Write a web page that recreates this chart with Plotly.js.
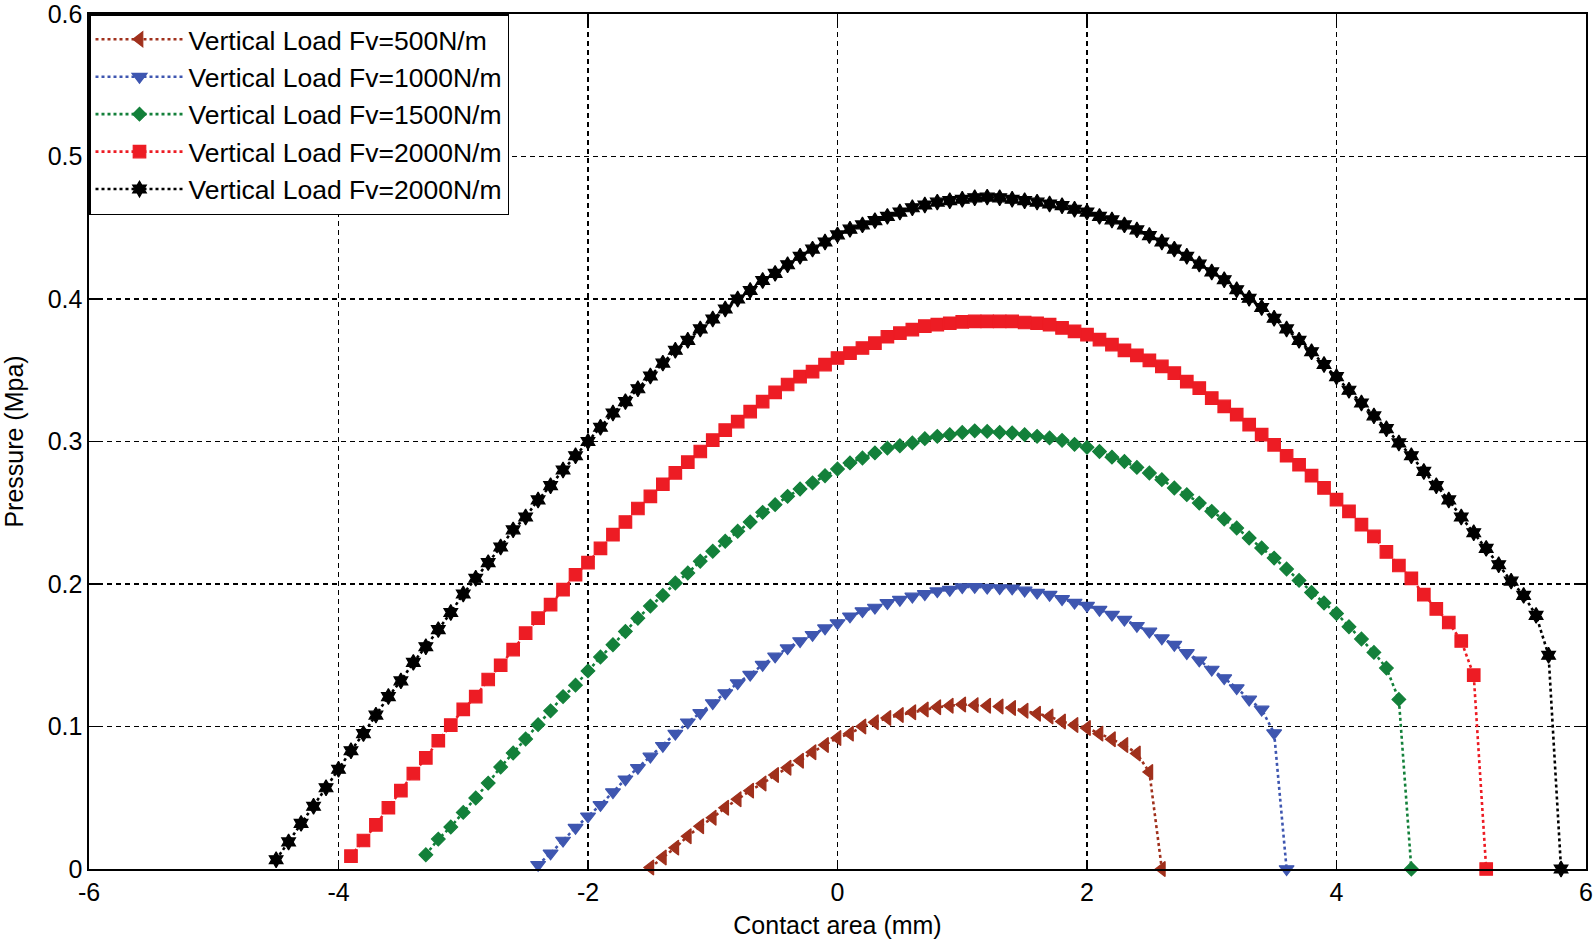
<!DOCTYPE html>
<html>
<head>
<meta charset="utf-8">
<script src="https://cdn.plot.ly/plotly-3.0.1.min.js"></script>
<style>
html,body{margin:0;padding:0;background:#fff;}
#chart{width:1596px;height:943px;}
</style>
</head>
<body>
<div id="chart"></div>
<script>
// Series names
const seriesNames = [
  "Vertical Load Fv=500N/m",
  "Vertical Load Fv=1000N/m",
  "Vertical Load Fv=1500N/m",
  "Vertical Load Fv=2000N/m",
  "Vertical Load Fv=2000N/m"
];

// Fv = 500 N/m
const x500 = [-1.5,-1.4,-1.3,-1.2,-1.1,-1.0,-0.9,-0.8,-0.7,-0.6,-0.5,-0.4,-0.3,-0.2,-0.1,0,0.1,0.2,0.3,0.4,0.5,0.6,0.7,0.8,0.9,1.0,1.1,1.2,1.3,1.4,1.5,1.6,1.7,1.8,1.9,2.0,2.1,2.2,2.3,2.4,2.5,2.6];
const y500 = [0.001,0.008,0.015,0.023,0.030,0.036,0.043,0.049,0.055,0.060,0.066,0.071,0.076,0.082,0.087,0.092,0.095,0.100,0.103,0.106,0.108,0.110,0.112,0.1135,0.1145,0.1155,0.115,0.1145,0.114,0.113,0.111,0.109,0.107,0.1035,0.101,0.099,0.095,0.091,0.087,0.081,0.068,0];

// Fv = 1000 N/m
const x1000 = [-2.4,-2.3,-2.2,-2.1,-2.0,-1.9,-1.8,-1.7,-1.6,-1.5,-1.4,-1.3,-1.2,-1.1,-1.0,-0.9,-0.8,-0.7,-0.6,-0.5,-0.4,-0.3,-0.2,-0.1,0,0.1,0.2,0.3,0.4,0.5,0.6,0.7,0.8,0.9,1.0,1.1,1.2,1.3,1.4,1.5,1.6,1.7,1.8,1.9,2.0,2.1,2.2,2.3,2.4,2.5,2.6,2.7,2.8,2.9,3.0,3.1,3.2,3.3,3.4,3.5,3.6];
const y1000 = [0.003,0.011,0.020,0.029,0.037,0.045,0.054,0.063,0.071,0.079,0.0865,0.095,0.103,0.1095,0.1165,0.1235,0.1305,0.1364,0.1434,0.1492,0.155,0.160,0.1644,0.169,0.1726,0.1773,0.181,0.1835,0.1867,0.189,0.1913,0.193,0.195,0.196,0.1979,0.198,0.1975,0.1972,0.197,0.1955,0.194,0.1925,0.1895,0.187,0.1848,0.182,0.1785,0.175,0.1707,0.1667,0.162,0.1574,0.1516,0.1464,0.140,0.134,0.127,0.119,0.112,0.0954,0];

// Fv = 1500 N/m
const x1500 = [-3.3,-3.2,-3.1,-3.0,-2.9,-2.8,-2.7,-2.6,-2.5,-2.4,-2.3,-2.2,-2.1,-2.0,-1.9,-1.8,-1.7,-1.6,-1.5,-1.4,-1.3,-1.2,-1.1,-1.0,-0.9,-0.8,-0.7,-0.6,-0.5,-0.4,-0.3,-0.2,-0.1,0,0.1,0.2,0.3,0.4,0.5,0.6,0.7,0.8,0.9,1.0,1.1,1.2,1.3,1.4,1.5,1.6,1.7,1.8,1.9,2.0,2.1,2.2,2.3,2.4,2.5,2.6,2.7,2.8,2.9,3.0,3.1,3.2,3.3,3.4,3.5,3.6,3.7,3.8,3.9,4.0,4.1,4.2,4.3,4.4,4.5,4.6];
const y1500 = [0.010,0.021,0.0295,0.0397,0.0498,0.0603,0.0716,0.0814,0.0912,0.1013,0.111,0.121,0.129,0.139,0.1488,0.1574,0.1667,0.176,0.1845,0.192,0.2007,0.2077,0.216,0.223,0.230,0.237,0.2435,0.2503,0.2557,0.2615,0.2667,0.271,0.276,0.2807,0.285,0.2884,0.292,0.2954,0.297,0.299,0.302,0.3036,0.3048,0.3063,0.3075,0.3071,0.3064,0.306,0.3048,0.3036,0.3025,0.3008,0.298,0.2959,0.293,0.289,0.286,0.2818,0.2779,0.2732,0.2674,0.2627,0.2568,0.251,0.2456,0.2393,0.2323,0.2253,0.2182,0.2105,0.2025,0.194,0.1867,0.1793,0.170,0.1614,0.152,0.141,0.119,0];

// Fv = 2000 N/m (red)
const x2000a = [-3.9,-3.8,-3.7,-3.6,-3.5,-3.4,-3.3,-3.2,-3.1,-3.0,-2.9,-2.8,-2.7,-2.6,-2.5,-2.4,-2.3,-2.2,-2.1,-2.0,-1.9,-1.8,-1.7,-1.6,-1.5,-1.4,-1.3,-1.2,-1.1,-1.0,-0.9,-0.8,-0.7,-0.6,-0.5,-0.4,-0.3,-0.2,-0.1,0,0.1,0.2,0.3,0.4,0.5,0.6,0.7,0.8,0.9,1.0,1.1,1.2,1.3,1.4,1.5,1.6,1.7,1.8,1.9,2.0,2.1,2.2,2.3,2.4,2.5,2.6,2.7,2.8,2.9,3.0,3.1,3.2,3.3,3.4,3.5,3.6,3.7,3.8,3.9,4.0,4.1,4.2,4.3,4.4,4.5,4.6,4.7,4.8,4.9,5.0,5.1,5.2];
const y2000a = [0.009,0.020,0.031,0.043,0.055,0.067,0.078,0.090,0.101,0.112,0.121,0.133,0.143,0.154,0.1655,0.176,0.1855,0.196,0.2065,0.215,0.225,0.2346,0.2435,0.253,0.2615,0.270,0.278,0.2855,0.293,0.301,0.308,0.314,0.321,0.328,0.3345,0.340,0.3455,0.349,0.354,0.3586,0.362,0.3656,0.369,0.3735,0.376,0.3785,0.381,0.382,0.383,0.384,0.3843,0.3843,0.3843,0.3843,0.3835,0.383,0.382,0.3797,0.3773,0.375,0.3715,0.368,0.364,0.3605,0.357,0.3527,0.348,0.342,0.3375,0.3305,0.3246,0.3188,0.3118,0.3048,0.2977,0.290,0.2837,0.276,0.2674,0.2592,0.251,0.2416,0.2334,0.2225,0.213,0.204,0.1925,0.1825,0.173,0.160,0.136,0];

// Fv = 2000 N/m (black)
const x2000b = [-4.5,-4.4,-4.3,-4.2,-4.1,-4.0,-3.9,-3.8,-3.7,-3.6,-3.5,-3.4,-3.3,-3.2,-3.1,-3.0,-2.9,-2.8,-2.7,-2.6,-2.5,-2.4,-2.3,-2.2,-2.1,-2.0,-1.9,-1.8,-1.7,-1.6,-1.5,-1.4,-1.3,-1.2,-1.1,-1.0,-0.9,-0.8,-0.7,-0.6,-0.5,-0.4,-0.3,-0.2,-0.1,0,0.1,0.2,0.3,0.4,0.5,0.6,0.7,0.8,0.9,1.0,1.1,1.2,1.3,1.4,1.5,1.6,1.7,1.8,1.9,2.0,2.1,2.2,2.3,2.4,2.5,2.6,2.7,2.8,2.9,3.0,3.1,3.2,3.3,3.4,3.5,3.6,3.7,3.8,3.9,4.0,4.1,4.2,4.3,4.4,4.5,4.6,4.7,4.8,4.9,5.0,5.1,5.2,5.3,5.4,5.5,5.6,5.7,5.8];
const y2000b = [0.0065,0.019,0.032,0.044,0.057,0.070,0.083,0.095,0.108,0.121,0.132,0.145,0.156,0.168,0.180,0.193,0.204,0.215,0.226,0.238,0.247,0.259,0.269,0.280,0.290,0.300,0.310,0.320,0.328,0.337,0.346,0.355,0.364,0.371,0.379,0.386,0.393,0.400,0.406,0.413,0.418,0.424,0.430,0.435,0.440,0.445,0.449,0.452,0.455,0.458,0.461,0.464,0.466,0.468,0.469,0.470,0.471,0.4715,0.471,0.470,0.469,0.468,0.4667,0.4655,0.463,0.461,0.458,0.4555,0.452,0.4485,0.4445,0.440,0.435,0.430,0.4245,0.419,0.4135,0.4065,0.4005,0.394,0.3865,0.379,0.371,0.363,0.354,0.3455,0.336,0.327,0.318,0.309,0.299,0.290,0.279,0.269,0.259,0.247,0.236,0.225,0.2135,0.202,0.192,0.178,0.150,0];

// Axis ticks
const xTicks = [-6,-4,-2,0,2,4,6];
const yTicks = [0,0.1,0.2,0.3,0.4,0.5,0.6];
const yTickText = ["0","0.1","0.2","0.3","0.4","0.5","0.6"];

function mk(x, y, name, color, symbol, size) {
  return {
    type: "scatter", mode: "lines+markers", x: x, y: y, name: name,
    line: {color: color, width: 2.6, dash: "dot"},
    marker: {color: color, symbol: symbol, size: size, line: {color: color, width: 1.2}},
    cliponaxis: false
  };
}

const traces = [
  mk(x500, y500, seriesNames[0], "#A0301C", "triangle-left", 13),
  mk(x1000, y1000, seriesNames[1], "#3E56B0", "triangle-down", 13),
  mk(x1500, y1500, seriesNames[2], "#13803A", "diamond", 10.5),
  mk(x2000a, y2000a, seriesNames[3], "#ED1C24", "square", 12.5),
  mk(x2000b, y2000b, seriesNames[4], "#000000", "hexagram", 12)
];

const fontFam = "Liberation Sans, Arial, sans-serif";
const axisCommon = {
  showline: true, linecolor: "#000", linewidth: 1.6, mirror: "ticks",
  ticks: "inside", ticklen: 9, tickcolor: "#000", tickwidth: 1.6,
  showgrid: true, gridcolor: "#000", gridwidth: 1.3, griddash: "5px,4px",
  zeroline: false, tickfont: {family: fontFam, size: 25, color: "#000"},
  ticklabeloverflow: "allow"
};

const layout = {
  width: 1596, height: 943,
  paper_bgcolor: "#fff", plot_bgcolor: "#fff",
  margin: {l: 89, r: 10, t: 14, b: 74},
  showlegend: true,
  xaxis: Object.assign({}, axisCommon, {
    range: [-6, 6], tickvals: xTicks, ticktext: xTicks.map(String),
    title: {text: "Contact area (mm)", font: {family: fontFam, size: 25, color: "#000"}, standoff: 12},
    automargin: false
  }),
  yaxis: Object.assign({}, axisCommon, {
    range: [0, 0.6], tickvals: yTicks, ticktext: yTickText,
    title: {text: "Pressure (Mpa)", font: {family: fontFam, size: 25, color: "#000"}, standoff: 17},
    automargin: false
  }),
  legend: {
    x: 0, y: 1, xanchor: "left", yanchor: "top",
    bgcolor: "#fff", bordercolor: "#000", borderwidth: 1.5,
    font: {family: fontFam, size: 26.5, color: "#000"},
    itemwidth: 88
  }
};

Plotly.newPlot("chart", traces, layout, {displayModeBar: false, staticPlot: true});
</script>
</body>
</html>
